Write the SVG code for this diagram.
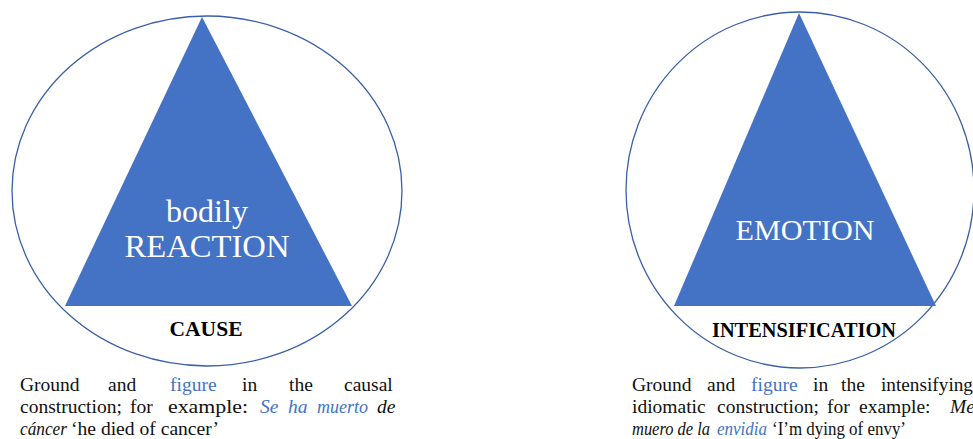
<svg xmlns="http://www.w3.org/2000/svg" width="973" height="439" viewBox="0 0 973 439">
<style>
.ell{fill:none;stroke:#3a5fa8;stroke-width:1.3}
.tri{fill:#4472c4}
.w{font-family:"Liberation Serif",serif;fill:#fff;text-anchor:middle}
.lab{font-family:"Liberation Serif",serif;fill:#000;font-weight:bold;text-anchor:middle}
.cap{font-family:"Liberation Serif",serif;font-size:19.5px;fill:#111}
.b{fill:#4472c4}
.i{font-style:italic}
</style>
<rect width="973" height="439" fill="#fff"/>
<g id="left-node">
<ellipse class="ell" cx="207" cy="191" rx="195" ry="175"/>
<polygon class="tri" points="202,17 352,306 65,306"/>
<text class="w" x="207" y="222" font-size="32">bodily</text>
<text class="w" x="207" y="257" font-size="32" textLength="165" lengthAdjust="spacingAndGlyphs">REACTION</text>
<text class="lab" x="206" y="336" font-size="21" textLength="73" lengthAdjust="spacingAndGlyphs">CAUSE</text>
</g>
<g id="right-node">
<ellipse class="ell" cx="800" cy="190" rx="174" ry="178"/>
<polygon class="tri" points="799,13 936,306 674,306"/>
<text class="w" x="805" y="240" font-size="30" textLength="139" lengthAdjust="spacingAndGlyphs">EMOTION</text>
<text class="lab" x="804" y="337" font-size="20" textLength="184" lengthAdjust="spacingAndGlyphs">INTENSIFICATION</text>
</g>
<g id="connectors"></g>
<g id="left-caption" class="cap">
<text y="391"><tspan x="20">Ground</tspan><tspan x="108">and</tspan><tspan x="170" class="b">figure</tspan><tspan x="242">in</tspan><tspan x="289">the</tspan><tspan x="344">causal</tspan></text>
<text y="413"><tspan x="20">construction;</tspan><tspan x="130">for</tspan><tspan x="168" textLength="80" lengthAdjust="spacingAndGlyphs">example:</tspan><tspan x="260" class="b i">Se</tspan><tspan x="288" class="b i">ha</tspan><tspan x="317" class="b i" textLength="51" lengthAdjust="spacingAndGlyphs">muerto</tspan><tspan x="377" class="i">de</tspan></text>
<text y="435"><tspan x="20" class="i" textLength="47" lengthAdjust="spacingAndGlyphs">cáncer</tspan><tspan x="71" textLength="148" lengthAdjust="spacingAndGlyphs">‘he died of cancer’</tspan></text>
</g>
<g id="right-caption" class="cap">
<text y="391"><tspan x="632">Ground</tspan><tspan x="707">and</tspan><tspan x="751" class="b">figure</tspan><tspan x="813">in</tspan><tspan x="841">the</tspan><tspan x="881" textLength="92" lengthAdjust="spacingAndGlyphs">intensifying</tspan></text>
<text y="413"><tspan x="632">idiomatic</tspan><tspan x="717">construction;</tspan><tspan x="827">for</tspan><tspan x="859">example:</tspan><tspan x="950" class="i">Me</tspan></text>
<text y="435"><tspan x="632" class="i" textLength="78" lengthAdjust="spacingAndGlyphs">muero de la</tspan><tspan x="717" class="b i" textLength="50" lengthAdjust="spacingAndGlyphs">envidia</tspan><tspan x="772" textLength="134" lengthAdjust="spacingAndGlyphs">‘I’m dying of envy’</tspan></text>
</g>
</svg>
